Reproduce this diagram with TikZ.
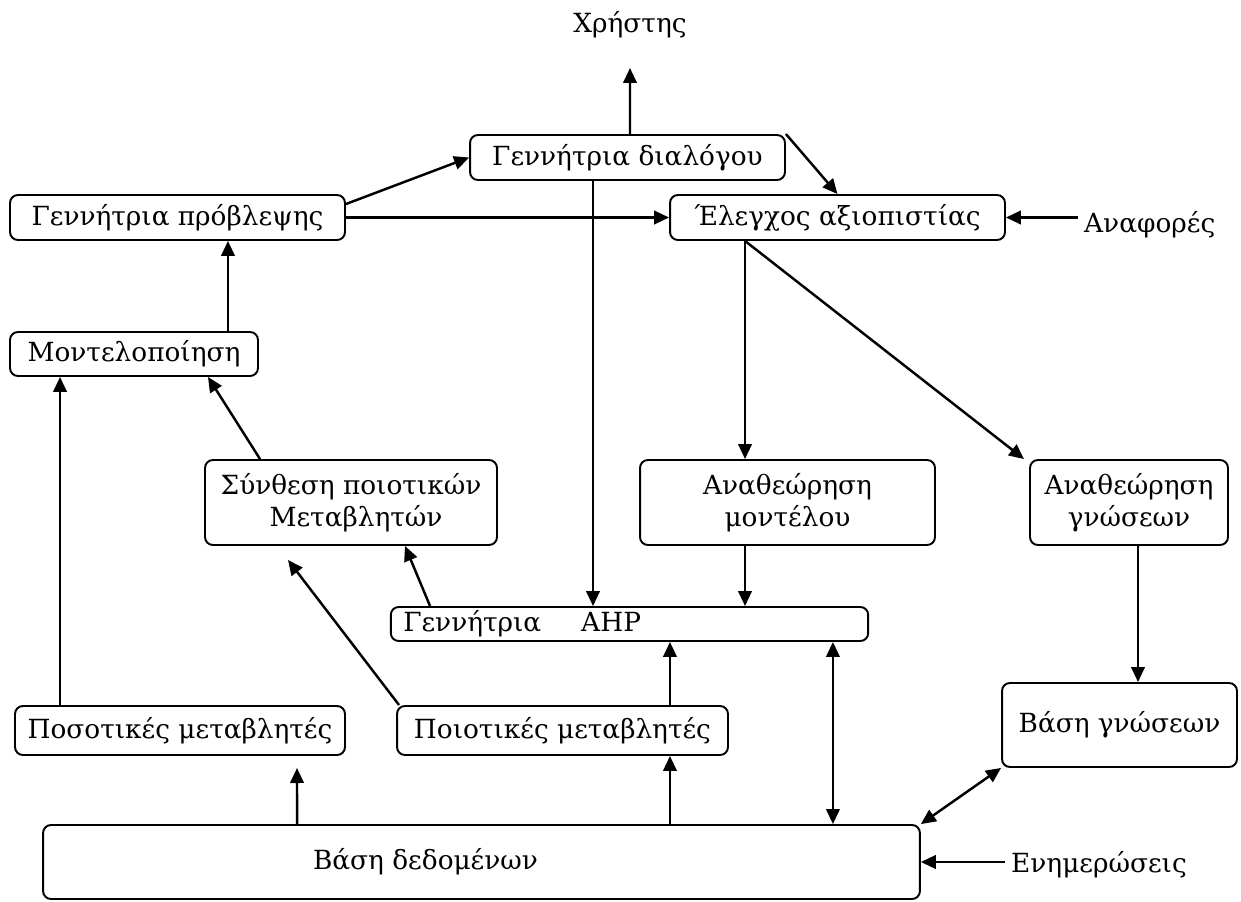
\documentclass[tikz,border=0pt]{standalone}
\usepackage{fontspec}
\setmainfont{DejaVu Serif}
\usetikzlibrary{arrows.meta}

\begin{document}
\begin{tikzpicture}[x=0.02cm, y=-0.02cm,
    font=\fontsize{15}{18}\selectfont,
    box/.style={draw, line width=1.1pt, rounded corners=4.5pt, inner sep=0pt, align=center},
    arr/.style={line width=1.4pt, -{Triangle[length=0.3cm, width=0.27cm]}},
    dbl/.style={line width=1.4pt, {Triangle[length=0.3cm, width=0.27cm]}-{Triangle[length=0.3cm, width=0.27cm]}}
]
\useasboundingbox (0,0) rectangle (1241,902);

% Boxes
\node[box, minimum width=6.3cm, minimum height=0.9cm] (dlg) at (627.5,157.5) {Γεννήτρια διαλόγου};
\node[box, minimum width=6.7cm, minimum height=0.9cm] (prb) at (177.5,217.5) {Γεννήτρια πρόβλεψης};
\node[box, minimum width=6.7cm, minimum height=0.9cm] (chk) at (837.5,217.5) {Έλεγχος αξιοπιστίας};
\node[box, minimum width=4.96cm, minimum height=0.88cm] (mod) at (134,354) {Μοντελοποίηση};
\node[box, minimum width=5.84cm, minimum height=1.7cm] (syn) at (351,502.5) {Σύνθεση ποιοτικών\\\hspace*{0.2cm}Μεταβλητών};
\node[box, minimum width=5.9cm, minimum height=1.7cm] (rvm) at (787.5,502.5) {Αναθεώρηση\\μοντέλου};
\node[box, minimum width=3.96cm, minimum height=1.7cm] (rvg) at (1129,502.5) {Αναθεώρηση\\γνώσεων};
\node[box, minimum width=9.3cm, minimum height=0.68cm, text width=9.05cm, align=left, inner xsep=0.25cm] (ahp) at (629.5,624) {Γεννήτρια\hspace{0.8cm}AHP};
\node[box, minimum width=6.6cm, minimum height=0.98cm] (qnt) at (180,730.5) {Ποσοτικές μεταβλητές};
\node[box, minimum width=6.62cm, minimum height=0.98cm] (qlt) at (562.5,730.5) {Ποιοτικές μεταβλητές};
\node[box, minimum width=4.7cm, minimum height=1.68cm] (kb) at (1119.5,725) {Βάση γνώσεων};
\node[box, minimum width=17.54cm, minimum height=1.48cm] (db) at (481.5,862) {Βάση δεδομένων\hspace*{2.24cm}};

% Outside labels
\node (usr) at (630,25) {Χρήστης};
\node[anchor=west] (ref) at (1078,225) {Αναφορές};
\node[anchor=west] (upd) at (1005,865) {Ενημερώσεις};

\coordinate (usrtip) at (630,68);
\coordinate (syntip) at (288,560);
\coordinate (qnttip) at (297,768);

% Arrows
\draw[arr] ([xshift=0.05cm]dlg.north) -- (usrtip);
\draw[arr] ([yshift=-0.2cm]prb.north east) -- (dlg.west);
\draw[arr] (prb.east) -- (chk.west);
\draw[arr] (dlg.north east) -- (chk.north);
\draw[arr] (ref.west |- chk.east) -- (chk.east);
\draw[arr] ([xshift=-0.69cm]dlg.south) -- ([xshift=-0.69cm]dlg.south |- ahp.north);
\draw[arr] ([xshift=-1.85cm]chk.south) -- ([xshift=-1.85cm]chk.south |- rvm.north);
\draw[arr] ([xshift=-1.85cm]chk.south) -- ([xshift=-0.1cm]rvg.north west);
\draw[arr] ([xshift=-0.85cm]rvm.south) -- ([xshift=-0.85cm]rvm.south |- ahp.north);
\draw[arr] ([xshift=0.18cm]rvg.south) -- ([xshift=0.18cm]rvg.south |- kb.north);
\draw[arr] ([xshift=1.88cm]mod.north) -- ([xshift=1.88cm]mod.north |- prb.south);
\draw[arr] ([xshift=-2.4cm]qnt.north) -- ([xshift=-2.4cm]qnt.north |- mod.south);
\draw[arr] ([xshift=-1.82cm]syn.north) -- ([xshift=1.48cm]mod.south);
\draw[arr] ([xshift=-3.99cm]ahp.north) -- ([xshift=1.08cm]syn.south);
\draw[arr] ([xshift=0.06cm]qlt.north west) -- (syntip);
\draw[arr] ([xshift=2.15cm]qlt.north) -- ([xshift=2.15cm]qlt.north |- ahp.south);
\draw[arr] ([xshift=-3.69cm]db.north) -- (qnttip);
\draw[arr] ([xshift=3.77cm]db.north) -- ([xshift=3.77cm]db.north |- qlt.south);
\draw[dbl] ([xshift=7.03cm]db.north) -- ([xshift=7.03cm]db.north |- ahp.south);
\draw[dbl] (db.north east) -- (kb.south west);
\draw[arr] (upd.west |- db.east) -- (db.east);

\end{tikzpicture}
\end{document}
